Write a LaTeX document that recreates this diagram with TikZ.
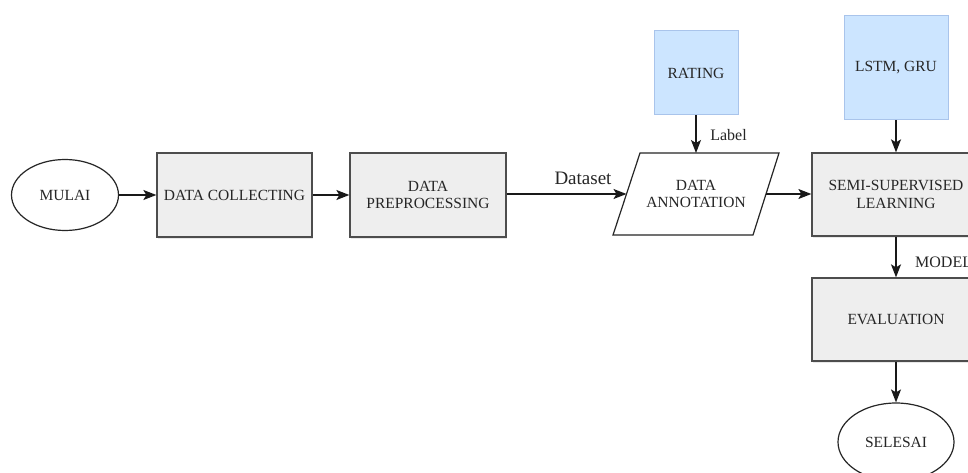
\documentclass[tikz,border=0pt]{standalone}
\usepackage{fontspec}
\setmainfont{Liberation Serif}
\usetikzlibrary{shapes.geometric,arrows.meta,shadows}
\definecolor{boxgray}{HTML}{EEEEEE}
\definecolor{boxline}{HTML}{4D4D4D}
\definecolor{bluefill}{HTML}{CCE5FF}
\definecolor{blueline}{HTML}{A9C4EB}
\definecolor{txt}{HTML}{262626}
\tikzset{
  proc/.style={rectangle, draw=boxline, fill=boxgray, line width=1.3pt, align=center,
    text=txt, font=\fontsize{15.5}{17.5}\selectfont,
    drop shadow={shadow xshift=0.8pt, shadow yshift=-2pt, opacity=0.18}},
  inbox/.style={rectangle, draw=blueline, fill=bluefill, line width=1pt, align=center,
    text=txt, font=\fontsize{15.5}{17.5}\selectfont},
  term/.style={ellipse, draw=black!85, fill=white, line width=1.2pt, align=center,
    text=txt, font=\fontsize{15.5}{17.5}\selectfont, inner sep=0pt},
  conn/.style={line width=1.3pt, draw=black!90, -{Stealth[length=13pt,width=10pt,inset=3pt]}},
  lbl/.style={text=txt, inner sep=0pt}
}
\begin{document}
\begin{tikzpicture}[x=1pt,y=-1pt]
\useasboundingbox (0,0) rectangle (968,473);
\clip (0,0) rectangle (968,473);
\fill[white] (0,0) rectangle (968,473);

\node[term, minimum width=107pt, minimum height=71pt] (mulai) at (65,195) {MULAI};
\node[proc, minimum width=155pt, minimum height=84pt] (dc) at (234.5,195) {DATA COLLECTING};
\node[proc, minimum width=156pt, minimum height=84pt] (dp) at (428,195) {DATA\\PREPROCESSING};

% parallelogram DATA ANNOTATION
\draw[line width=1.2pt, draw=black!85, fill=white] (640,153) -- (779,153) -- (753,235) -- (613,235) -- cycle;
\node[align=center, text=txt, font=\fontsize{15.5}{17.5}\selectfont] (da) at (696,194) {DATA\\ANNOTATION};
\coordinate (dal) at (626.5,194);
\coordinate (dar) at (766,194);
\coordinate (dat) at (696,153);

\node[inbox, minimum width=84pt, minimum height=84pt] (rating) at (696,73) {RATING};
\node[inbox, minimum width=104pt, minimum height=104pt] (lstm) at (896,68) {LSTM, GRU};

\node[proc, minimum width=168pt, minimum height=83pt] (ssl) at (896,194.5) {SEMI-SUPERVISED\\LEARNING};
\node[proc, minimum width=168pt, minimum height=83pt] (eval) at (896,319.5) {EVALUATION};
\node[term, minimum width=116pt, minimum height=78pt] (selesai) at (896,442) {SELESAI};

\draw[conn] (mulai.east) -- (dc.west);
\draw[conn] (dc.east) -- (dp.west);
\draw[conn] (dp.east |- dal) -- (dal);
\draw[conn] (rating.south) -- (dat);
\draw[conn] (dar) -- (ssl.west |- dar);
\draw[conn] (lstm.south) -- (ssl.north);
\draw[conn] (ssl.south) -- (eval.north);
\draw[conn] (eval.south) -- (selesai.north);

\node[lbl, font=\fontsize{19}{21}\selectfont] (dslbl) at (583,178) {Dataset};
\node[lbl, font=\fontsize{16}{18}\selectfont] (lablbl) at (728.5,135) {Label};
\node[lbl, font=\fontsize{16}{18}\selectfont, anchor=west] (modlbl) at (915,262) {MODEL};
\end{tikzpicture}
\end{document}
